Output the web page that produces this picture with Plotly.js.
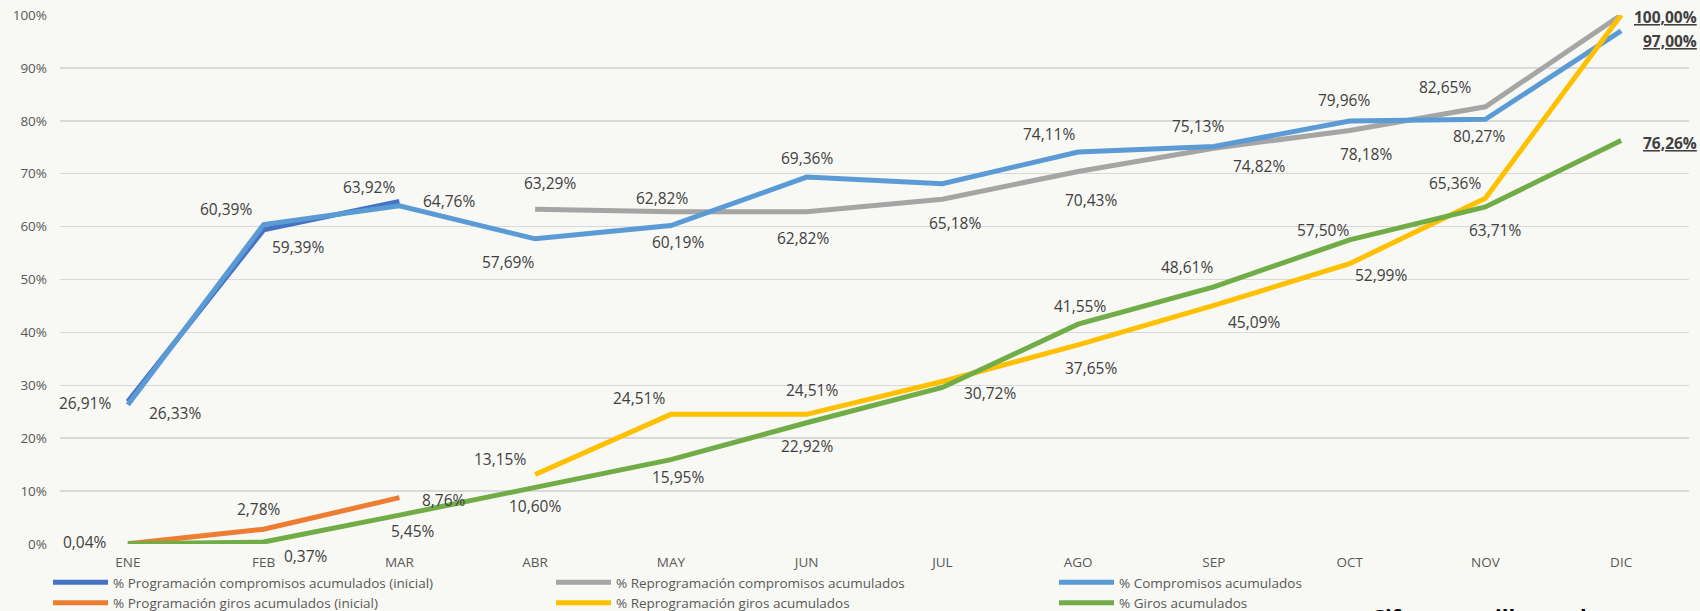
<!DOCTYPE html>
<html>
<head>
<meta charset="utf-8">
<script src="https://cdn.plot.ly/plotly-3.0.1.min.js"></script>
<style>html,body{margin:0;padding:0;background:#F8F8F4;}#chart{width:1700px;height:611px;}</style>
</head>
<body>
<div id="chart"></div>
<script>
// ---- data ----
const months = ['ENE','FEB','MAR','ABR','MAY','JUN','JUL','AGO','SEP','OCT','NOV','DIC'];
const progComp    = [26.91, 59.39, 64.76, null, null, null, null, null, null, null, null, null];
const reprogComp  = [null, null, null, 63.29, 62.82, 62.82, 65.18, 70.43, 74.82, 78.18, 82.65, 100.00];
const comp        = [26.33, 60.39, 63.92, 57.69, 60.19, 69.36, 68.10, 74.11, 75.13, 79.96, 80.27, 97.00];
const progGiros   = [0.04, 2.78, 8.76, null, null, null, null, null, null, null, null, null];
const reprogGiros = [null, null, null, 13.15, 24.51, 24.51, 30.72, 37.65, 45.09, 52.99, 65.36, 100.00];
const giros       = [0.04, 0.37, 5.45, 10.60, 15.95, 22.92, 29.60, 41.55, 48.61, 57.50, 63.71, 76.26];

const names = [
  '% Programación compromisos acumulados (inicial)',
  '% Reprogramación compromisos acumulados',
  '% Compromisos acumulados',
  '% Programación giros acumulados (inicial)',
  '% Reprogramación giros acumulados',
  '% Giros acumulados'
];

// ---- label placement (pixel offsets from each point; null = no label) ----
const offProgComp   = [[-43,1],[34,17],[50,0]];
const offReprogComp = [null,null,null,[15,-26],[-9,-14],[-4,26],[13,24],[13,29],[45,18],[16,24],[-40,-20],[44,2]];
const offComp       = [[47,8],[-38,-16],[-30,-19],[-27,23],[7,16],[0,-19],null,[-29,-18],[-16,-21],[-6,-21],[-6,17],[49,10]];
const offProgGiros  = [[-43,-2],[-5,-20],[45,2]];
const offReprogGiros= [null,null,null,[-35,-15],[-32,-16],[5,-24],[48,12],[13,23],[40,17],[31,11],[-30,-15],null];
const offGiros      = [null,[42,14],[14,16],[0,18],[7,17],[0,23],null,[2,-18],[-27,-20],[-27,-10],[10,23],[49,2]];

const colors = ['#4472C4','#A5A5A5','#5B9BD5','#ED7D31','#FFC000','#70AD47'];
const series = [progComp, reprogComp, comp, progGiros, reprogGiros, giros];
const offsets = [offProgComp, offReprogComp, offComp, offProgGiros, offReprogGiros, offGiros];

const fmt = v => v.toFixed(2).replace('.', ',') + '%';

const traces = series.map((s, i) => ({
  x: months.slice(0, s.length),
  y: s,
  type: 'scatter',
  mode: 'lines',
  name: names[i],
  line: {color: colors[i], width: 5},
  connectgaps: false,
  hoverinfo: 'skip'
}));

const annotations = [];
series.forEach((s, i) => {
  offsets[i].forEach((o, j) => {
    if (!o || s[j] == null) return;
    const lastCol = j === 11;
    const t = lastCol ? '<b><u>' + fmt(s[j]) + '</u></b>' : fmt(s[j]);
    annotations.push({
      x: months[j], y: s[j], xref: 'x', yref: 'y',
      text: t, showarrow: false,
      xshift: o[0], yshift: -o[1],
      font: {family: 'Open Sans, sans-serif', size: 15.5, color: '#404040'},
      xanchor: 'center', yanchor: 'middle'
    });
  });
});

const L = 60, R = 11, T = 15, B = 67, W = 1700, H = 611;
const pw = W - L - R, ph = H - T - B;

annotations.push({
  x: (1369 - L) / pw, y: (H - B - 599) / ph, xref: 'paper', yref: 'paper',
  text: '<b>Cifras en millones de</b>', showarrow: false,
  xanchor: 'left', yanchor: 'top',
  font: {family: 'Open Sans, sans-serif', size: 22, color: '#000000'}
});

const layout = {
  width: W, height: H,
  margin: {l: L, r: R, t: T, b: B, pad: 0, autoexpand: false},
  paper_bgcolor: '#F8F8F4',
  plot_bgcolor: '#F8F8F4',
  font: {family: 'Open Sans, sans-serif', color: '#595959'},
  showlegend: true,
  legend: {
    orientation: 'h',
    x: (48 - L) / pw, xanchor: 'left',
    y: (H - B - 567) / ph, yanchor: 'top',
    itemwidth: 55,
    entrywidth: 433, entrywidthmode: 'pixels',
    font: {size: 13.5, color: '#595959', family: 'Open Sans, sans-serif'},
    bgcolor: 'rgba(0,0,0,0)',
    tracegroupgap: 0,
    traceorder: 'normal'
  },
  xaxis: {
    type: 'category',
    categoryorder: 'array', categoryarray: months,
    range: [-0.5, 11.5],
    showgrid: false, zeroline: false, showline: false,
    ticks: '', tickfont: {size: 13.5, color: '#595959'},
    ticklabelstandoff: 8,
    fixedrange: true
  },
  yaxis: {
    range: [0, 100],
    tickvals: [0,10,20,30,40,50,60,70,80,90,100],
    ticktext: ['0%','10%','20%','30%','40%','50%','60%','70%','80%','90%','100%'],
    showgrid: true, gridcolor: '#D9D9D9', gridwidth: 1.5,
    zeroline: false, showline: false,
    ticks: '', tickfont: {size: 13.5, color: '#595959'},
    ticklabelstandoff: 12,
    fixedrange: true
  },
  annotations: annotations
};

Plotly.newPlot('chart', traces, layout, {displayModeBar: false, staticPlot: true});
</script>
</body>
</html>
